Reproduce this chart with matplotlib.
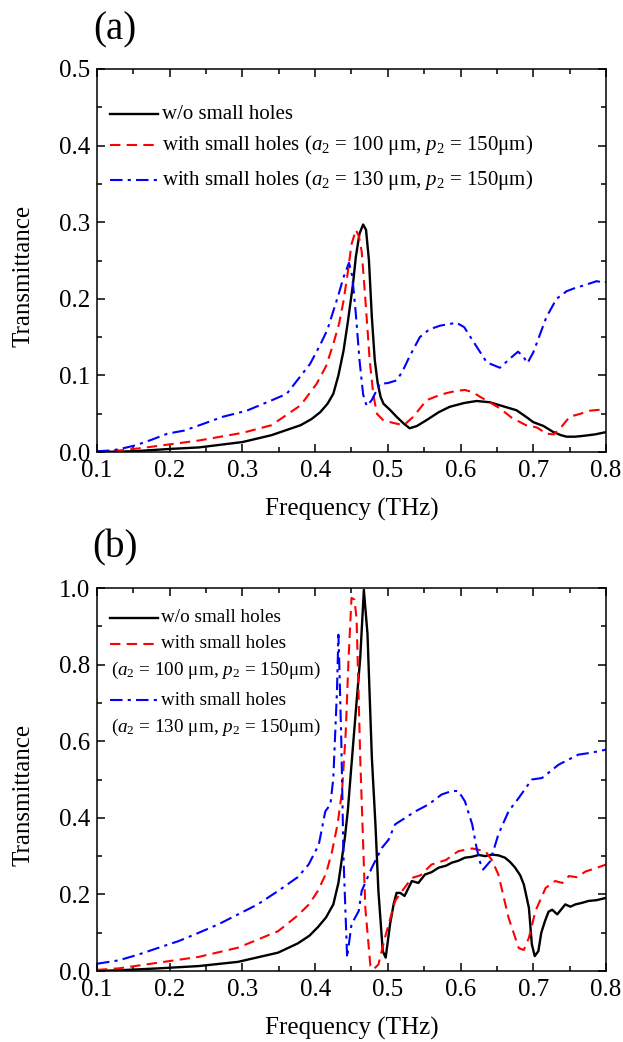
import numpy as np
import matplotlib
matplotlib.use('Agg')
import matplotlib.pyplot as plt
from matplotlib.ticker import MultipleLocator, FormatStrFormatter

plt.rcParams['font.family'] = ['Liberation Serif', 'DejaVu Serif']
plt.rcParams['mathtext.fontset'] = 'custom'
plt.rcParams['mathtext.rm'] = 'Liberation Serif'
plt.rcParams['mathtext.it'] = 'Liberation Serif:italic'

# ---- panel (a) data ----
fa_k = [0.10, 0.15, 0.20, 0.24, 0.30, 0.34, 0.38, 0.395, 0.407, 0.417, 0.425, 0.432, 0.439, 0.445,
        0.452, 0.456, 0.461, 0.466, 0.470, 0.474, 0.478, 0.482, 0.486, 0.490, 0.494, 0.503,
        0.512, 0.522, 0.530, 0.540, 0.553, 0.570, 0.585, 0.605, 0.622, 0.640, 0.654, 0.677,
        0.690, 0.700, 0.714, 0.727, 0.738, 0.746, 0.757, 0.768, 0.785, 0.800]
ta_k = [0.000, 0.001, 0.004, 0.006, 0.013, 0.022, 0.035, 0.043, 0.052, 0.063, 0.076, 0.100, 0.132, 0.170,
        0.219, 0.255, 0.285, 0.297, 0.290, 0.250, 0.176, 0.120, 0.090, 0.072, 0.063, 0.055,
        0.046, 0.037, 0.031, 0.034, 0.0415, 0.052, 0.059, 0.064, 0.0666, 0.065, 0.061, 0.0545,
        0.046, 0.039, 0.034, 0.0264, 0.022, 0.020, 0.020, 0.021, 0.023, 0.026]

fa_r = [0.10, 0.13, 0.16, 0.20, 0.24, 0.30, 0.34, 0.38, 0.402, 0.415, 0.425, 0.433, 0.439, 0.445,
        0.450, 0.456, 0.460, 0.464, 0.469, 0.475, 0.480, 0.485, 0.493, 0.503, 0.512, 0.522,
        0.535, 0.553, 0.570, 0.581, 0.595, 0.606, 0.617, 0.627, 0.640, 0.654, 0.670, 0.690,
        0.705, 0.718, 0.728, 0.738, 0.750, 0.765, 0.778, 0.790, 0.800]
ta_r = [0.001, 0.002, 0.005, 0.010, 0.015, 0.025, 0.035, 0.061, 0.089, 0.112, 0.141, 0.168, 0.197, 0.235,
        0.271, 0.290, 0.282, 0.262, 0.200, 0.120, 0.075, 0.050, 0.042, 0.039, 0.037, 0.035,
        0.046, 0.0675, 0.074, 0.077, 0.080, 0.081, 0.078, 0.072, 0.065, 0.057, 0.045, 0.035,
        0.032, 0.024, 0.023, 0.032, 0.046, 0.050, 0.054, 0.055, 0.0545]

fa_b = [0.10, 0.12, 0.132, 0.153, 0.175, 0.197, 0.22, 0.241, 0.273, 0.306, 0.339, 0.361, 0.379,
        0.393, 0.407, 0.417, 0.425, 0.432, 0.439, 0.4465, 0.451, 0.456, 0.461, 0.466, 0.471,
        0.478, 0.489, 0.500, 0.512, 0.520, 0.530, 0.544, 0.557, 0.572, 0.585, 0.594, 0.605,
        0.617, 0.636, 0.654, 0.668, 0.679, 0.686, 0.692, 0.700, 0.718, 0.732, 0.746, 0.760,
        0.768, 0.787, 0.798, 0.800]
ta_b = [0.001, 0.002, 0.004, 0.0087, 0.016, 0.024, 0.028, 0.035, 0.046, 0.054, 0.067, 0.076, 0.098,
        0.115, 0.140, 0.160, 0.184, 0.205, 0.228, 0.247, 0.230, 0.180, 0.120, 0.075, 0.060,
        0.068, 0.089, 0.090, 0.0935, 0.105, 0.125, 0.150, 0.160, 0.165, 0.167, 0.169, 0.163,
        0.145, 0.117, 0.110, 0.122, 0.131, 0.125, 0.116, 0.130, 0.176, 0.200, 0.210, 0.215,
        0.217, 0.223, 0.221, 0.222]

# ---- panel (b) data ----
fb_k = [0.10, 0.13, 0.185, 0.24, 0.294, 0.349, 0.376, 0.392, 0.404, 0.415, 0.425, 0.432, 0.437,
        0.441, 0.445, 0.45, 0.456, 0.462, 0.467, 0.472, 0.478, 0.483, 0.487, 0.493, 0.497,
        0.503, 0.508, 0.512, 0.517, 0.523, 0.533, 0.542, 0.551, 0.56, 0.57, 0.58, 0.588,
        0.597, 0.606, 0.615, 0.625, 0.634, 0.643, 0.652, 0.661, 0.668, 0.675, 0.682, 0.687,
        0.694, 0.698, 0.702, 0.707, 0.711, 0.716, 0.721, 0.726, 0.733, 0.744, 0.751, 0.758,
        0.767, 0.776, 0.787, 0.800]
tb_k = [0.000, 0.002, 0.007, 0.013, 0.024, 0.048, 0.072, 0.092, 0.115, 0.140, 0.174, 0.230, 0.296,
        0.350, 0.420, 0.539, 0.680, 0.817, 0.995, 0.880, 0.557, 0.380, 0.209, 0.052, 0.035,
        0.122, 0.175, 0.204, 0.204, 0.196, 0.235, 0.230, 0.252, 0.258, 0.270, 0.275, 0.283,
        0.288, 0.296, 0.298, 0.303, 0.300, 0.304, 0.302, 0.296, 0.285, 0.270, 0.250, 0.226,
        0.165, 0.070, 0.039, 0.052, 0.100, 0.130, 0.155, 0.160, 0.148, 0.174, 0.168, 0.174,
        0.178, 0.183, 0.185, 0.191]

fb_r = [0.10, 0.13, 0.185, 0.24, 0.294, 0.349, 0.376, 0.392, 0.404, 0.415, 0.423, 0.431, 0.437,
        0.442, 0.446, 0.45, 0.454, 0.457, 0.462, 0.469, 0.476, 0.48, 0.487, 0.496, 0.51, 0.52,
        0.533, 0.545, 0.56, 0.58, 0.597, 0.616, 0.634, 0.643, 0.652, 0.666, 0.68, 0.687,
        0.694, 0.703, 0.717, 0.73, 0.74, 0.749, 0.76, 0.772, 0.785, 0.800]
tb_r = [0.003, 0.007, 0.022, 0.037, 0.061, 0.104, 0.145, 0.175, 0.210, 0.255, 0.310, 0.385, 0.470,
        0.620, 0.817, 0.974, 0.970, 0.920, 0.557, 0.165, 0.013, 0.004, 0.017, 0.087, 0.183,
        0.210, 0.243, 0.250, 0.278, 0.290, 0.313, 0.320, 0.313, 0.290, 0.252, 0.139, 0.060,
        0.055, 0.087, 0.157, 0.217, 0.235, 0.230, 0.248, 0.245, 0.260, 0.268, 0.278]

fb_b = [0.10, 0.13, 0.157, 0.185, 0.212, 0.24, 0.267, 0.294, 0.321, 0.349, 0.376, 0.391, 0.405,
        0.414, 0.421, 0.425, 0.43, 0.432, 0.433, 0.436, 0.439, 0.444, 0.45, 0.46, 0.464, 0.478,
        0.492, 0.501, 0.51, 0.524, 0.538, 0.556, 0.574, 0.588, 0.597, 0.606, 0.616, 0.622,
        0.627, 0.631, 0.641, 0.652, 0.666, 0.68, 0.698, 0.712, 0.735, 0.762, 0.78, 0.800]
tb_b = [0.019, 0.028, 0.043, 0.061, 0.078, 0.100, 0.122, 0.148, 0.174, 0.209, 0.245, 0.278, 0.330,
        0.417, 0.435, 0.504, 0.730, 0.878, 0.817, 0.600, 0.296, 0.035, 0.122, 0.157, 0.209, 0.270,
        0.322, 0.343, 0.383, 0.400, 0.417, 0.435, 0.461, 0.470, 0.470, 0.443, 0.383, 0.322,
        0.283, 0.265, 0.287, 0.357, 0.417, 0.452, 0.500, 0.504, 0.539, 0.565, 0.570, 0.578]

lab_k = 'w/o small holes'
lab_r = r'with small holes ($a_2$ = 100 μm, $p_2$ = 150μm)'
lab_b = r'with small holes ($a_2$ = 130 μm, $p_2$ = 150μm)'

styles = {
    'k': dict(color='black', lw=1.7, ls='-'),
    'r': dict(color='#ff0000', lw=1.5, ls=(0, (5, 3))),
    'b': dict(color='#0000ff', lw=1.5, ls=(0, (6, 2.5, 1.5, 2.5))),
}

fig = plt.figure(figsize=(6.23, 10.42), dpi=100)
ax1 = fig.add_axes([0.1557, 0.5662, 0.817, 0.3676])
ax2 = fig.add_axes([0.1557, 0.0681, 0.817, 0.3676])

ax1.plot(fa_k, ta_k, **styles['k'])
ax1.plot(fa_r, ta_r, **styles['r'])
ax1.plot(fa_b, ta_b, **styles['b'])

ax2.plot(fb_k, tb_k, **styles['k'])
ax2.plot(fb_r, tb_r, **styles['r'])
ax2.plot(fb_b, tb_b, **styles['b'])

for ax, ymax, major, minor in [(ax1, 0.5, 0.1, 0.05), (ax2, 1.0, 0.2, 0.1)]:
    ax.set_xlim(0.1, 0.8)
    ax.set_ylim(0, ymax)
    ax.xaxis.set_major_locator(MultipleLocator(0.1))
    ax.xaxis.set_minor_locator(MultipleLocator(0.05))
    ax.yaxis.set_major_locator(MultipleLocator(major))
    ax.yaxis.set_minor_locator(MultipleLocator(minor))
    ax.xaxis.set_major_formatter(FormatStrFormatter('%.1f'))
    ax.yaxis.set_major_formatter(FormatStrFormatter('%.1f'))
    ax.tick_params(which='both', direction='in', top=True, right=True, width=1.1,
                   labelsize=18)
    ax.tick_params(axis='x', pad=6)
    ax.tick_params(axis='y', pad=5)
    ax.tick_params(which='major', length=6)
    ax.tick_params(which='minor', length=3.5)
    for s in ax.spines.values():
        s.set_linewidth(1.1)
    ax.set_xlabel('Frequency (THz)', fontsize=18, va='center')
    ax.set_ylabel('Transmittance', fontsize=18, va='center')
    ax.xaxis.set_label_coords(0.5, -0.15)
    ax.yaxis.set_label_coords(-0.145, 0.46)

# legend (a), drawn by hand to match the layout
tr = ax1.transAxes
for y, key, lab in [(0.882, 'k', lab_k), (0.802, 'r', lab_r), (0.710, 'b', lab_b)]:
    ax1.plot([0.026, 0.119], [y, y], transform=tr, **styles[key])
    ax1.text(0.127, y, lab, transform=tr, fontsize=15, va='center', ha='left')

# legend (b), labels split on two lines
tr = ax2.transAxes
for y, key, lab in [(0.922, 'k', lab_k), (0.855, 'r', 'with small holes'),
                    (0.707, 'b', 'with small holes')]:
    ax2.plot([0.026, 0.119], [y, y], transform=tr, **styles[key])
    ax2.text(0.125, y, lab, transform=tr, fontsize=13.8, va='center', ha='left')
ax2.text(0.027, 0.785, r'($a_2$ = 100 μm, $p_2$ = 150μm)', transform=tr, fontsize=13.8,
         va='center', ha='left')
ax2.text(0.027, 0.637, r'($a_2$ = 130 μm, $p_2$ = 150μm)', transform=tr, fontsize=13.8,
         va='center', ha='left')

fig.text(0.185, 0.971, '(a)', fontsize=28, ha='center', va='center')
fig.text(0.185, 0.474, '(b)', fontsize=28, ha='center', va='center')

fig.savefig('out.png', dpi=100)
